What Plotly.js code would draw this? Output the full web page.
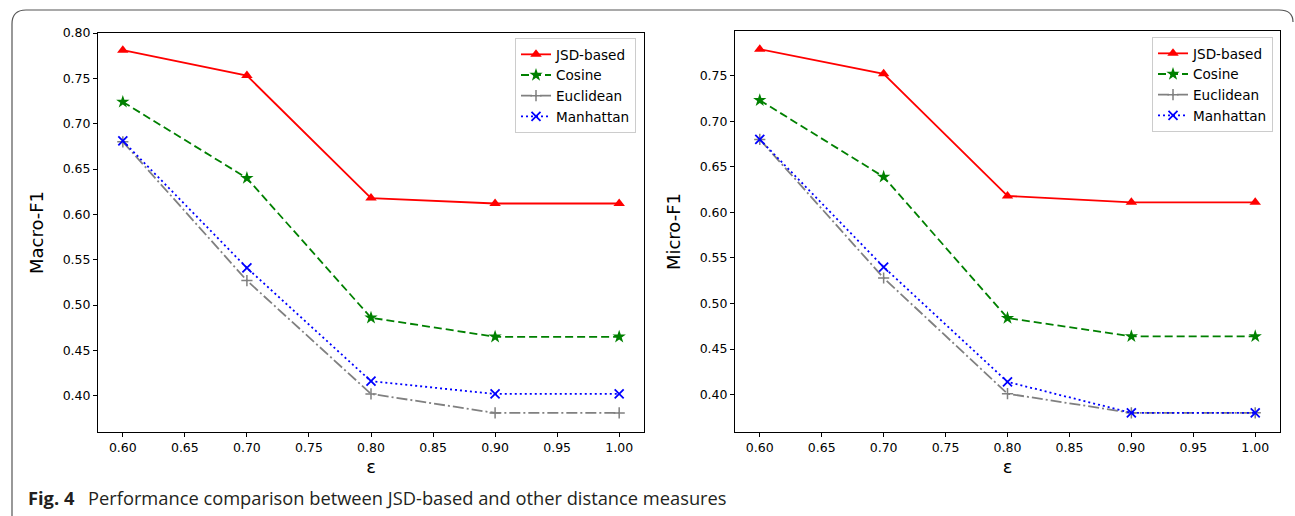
<!DOCTYPE html>
<html>
<head>
<meta charset="utf-8">
<script src="https://cdn.plot.ly/plotly-3.0.1.min.js"></script>
<style>
  html, body { margin: 0; padding: 0; background: #ffffff; }
  #chart { width: 1295px; height: 516px; }
</style>
</head>
<body>
<div id="chart"></div>
<script>
// ---- Data ----
const epsilon = [0.60, 0.70, 0.80, 0.90, 1.00];
const seriesNames = ["JSD-based", "Cosine", "Euclidean", "Manhattan"];

// Macro-F1 (left panel)
const macroJSD       = [0.781, 0.753, 0.618, 0.612, 0.612];
const macroCosine    = [0.724, 0.640, 0.486, 0.465, 0.465];
const macroEuclidean = [0.680, 0.527, 0.402, 0.381, 0.381];
const macroManhattan = [0.681, 0.541, 0.416, 0.402, 0.402];

// Micro-F1 (right panel)
const microJSD       = [0.779, 0.752, 0.618, 0.611, 0.611];
const microCosine    = [0.723, 0.639, 0.484, 0.464, 0.464];
const microEuclidean = [0.680, 0.528, 0.401, 0.380, 0.380];
const microManhattan = [0.680, 0.540, 0.414, 0.380, 0.380];

const xTickVals = [0.60, 0.65, 0.70, 0.75, 0.80, 0.85, 0.90, 0.95, 1.00];
const yTitles = ["Macro-F1", "Micro-F1"];
const xTitle = "ε";
const captionLabel = "Fig. 4";
const captionText = "Performance comparison between JSD-based and other distance measures";

// ---- Styles ----
const W = 1295, H = 516;
const styles = [
  {color: "#ff0000", dash: "solid", symbol: "triangle-up", size: 10, lw: 0},
  {color: "#008000", dash: "8px,4px", symbol: "star", size: 10, lw: 0},
  {color: "#808080", dash: "11px,3px,2px,3px", symbol: "cross-thin", size: 8, lw: 1.5},
  {color: "#0000ff", dash: "2px,3px", symbol: "x-thin", size: 9, lw: 1.8}
];

function makeTraces(vals, xa, ya, legendId) {
  return vals.map((v, i) => ({
    type: "scatter", mode: "lines+markers",
    x: epsilon, y: v, name: seriesNames[i],
    xaxis: xa, yaxis: ya, legend: legendId,
    line: {color: styles[i].color, width: 1.8, dash: styles[i].dash},
    marker: {symbol: styles[i].symbol, size: styles[i].size, color: styles[i].color,
             line: {color: styles[i].color, width: styles[i].lw}}
  }));
}

const data = [
  ...makeTraces([macroJSD, macroCosine, macroEuclidean, macroManhattan], "x", "y", "legend"),
  ...makeTraces([microJSD, microCosine, microEuclidean, microManhattan], "x2", "y2", "legend2")
];

const px = v => v / W;
const py = v => 1 - v / H;

const tickFont = {family: "DejaVu Sans", size: 12.5, color: "#000"};
const titleFont = {family: "DejaVu Sans", size: 18, color: "#000"};

function xAxis(domain, anchor) {
  return {
    domain: domain, anchor: anchor, range: [0.58, 1.02],
    tickvals: xTickVals, tickformat: ".2f",
    ticks: "outside", ticklen: 4, tickwidth: 1, tickcolor: "#000",
    showline: true, linecolor: "#000", linewidth: 1, mirror: true,
    showgrid: false, zeroline: false, tickfont: tickFont,
    title: {text: xTitle, font: titleFont, standoff: 6}
  };
}
function yAxis(domain, anchor, range, title) {
  return {
    domain: domain, anchor: anchor, range: range,
    dtick: 0.05, tick0: 0, tickformat: ".2f",
    ticks: "outside", ticklen: 4, tickwidth: 1, tickcolor: "#000",
    showline: true, linecolor: "#000", linewidth: 1, mirror: true,
    showgrid: false, zeroline: false, tickfont: tickFont,
    title: {text: title, font: titleFont, standoff: 14}
  };
}

const legendStyle = (xr, yt) => ({
  x: px(xr), xanchor: "right", y: py(yt), yanchor: "top",
  bgcolor: "rgba(255,255,255,0.8)", bordercolor: "#cccccc", borderwidth: 1,
  font: {family: "DejaVu Sans", size: 13.6, color: "#000"},
  tracegroupgap: 0, itemwidth: 30
});

const framePath = `M ${px(12)} ${py(516)} L ${px(12)} ${py(24)} Q ${px(12)} ${py(10)} ${px(26)} ${py(10)} L ${px(1279)} ${py(10)} Q ${px(1293)} ${py(10)} ${px(1293)} ${py(22)}`;

const layout = {
  width: W, height: H,
  margin: {l: 0, r: 0, t: 0, b: 0},
  paper_bgcolor: "#ffffff", plot_bgcolor: "#ffffff",
  showlegend: true,
  xaxis: xAxis([px(98), px(644)], "y"),
  yaxis: yAxis([py(432), py(33)], "x", [0.36, 0.80], yTitles[0]),
  xaxis2: xAxis([px(735), px(1280)], "y2"),
  yaxis2: yAxis([py(432), py(31)], "x2", [0.359, 0.799], yTitles[1]),
  legend: legendStyle(636, 38),
  legend2: legendStyle(1273, 37),
  shapes: [{
    type: "path", xref: "paper", yref: "paper", path: framePath,
    line: {color: "#555555", width: 1.2}
  }],
  annotations: [
    {xref: "paper", yref: "paper", x: px(26), y: py(497), xanchor: "left", yanchor: "middle",
     text: "<b>" + captionLabel + "</b>", showarrow: false,
     font: {family: "Open Sans", size: 18.3, color: "#231f20"}},
    {xref: "paper", yref: "paper", x: px(86), y: py(497), xanchor: "left", yanchor: "middle",
     text: captionText, showarrow: false,
     font: {family: "Open Sans", size: 18.3, color: "#231f20"}}
  ]
};

Plotly.newPlot("chart", data, layout, {displayModeBar: false, staticPlot: true});
</script>
</body>
</html>
